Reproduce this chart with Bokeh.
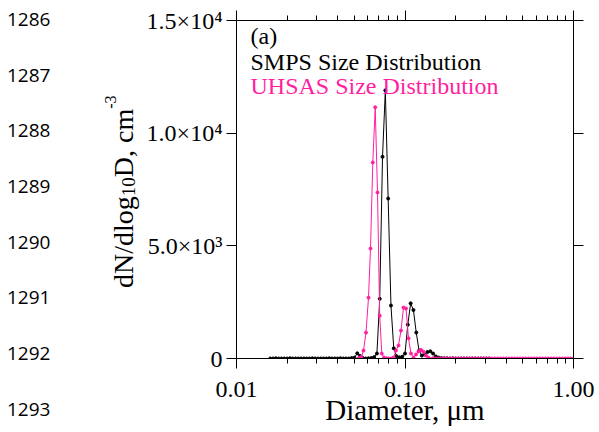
from bokeh.plotting import figure
from bokeh.layouts import row
from bokeh.models import (Range1d, FixedTicker, LinearAxis, LogAxis, Label, Div,
                          PrintfTickFormatter, ColumnDataSource)
from bokeh.embed import file_html
from bokeh.resources import INLINE

# ---------------- data ----------------
smps_diameter = [
    0.01585, 0.01647, 0.01711, 0.01778, 0.01848, 0.01920, 0.01995, 0.02073, 0.02154, 0.02239,
    0.02326, 0.02417, 0.02512, 0.02610, 0.02712, 0.02818, 0.02929, 0.03043, 0.03162, 0.03286,
    0.03415, 0.03548, 0.03687, 0.03831, 0.03981, 0.04137, 0.04299, 0.04467, 0.04642, 0.04823,
    0.05012, 0.05208, 0.05412, 0.05623, 0.05843, 0.06072, 0.06310, 0.06556, 0.06813, 0.07079,
    0.07356, 0.07644, 0.07943, 0.08254, 0.08577, 0.08913, 0.09261, 0.09624, 0.1000, 0.1039,
    0.1080, 0.1122, 0.1166, 0.1212, 0.1259, 0.1308, 0.1359, 0.1413, 0.1468, 0.1525,
    0.1585, 0.1647, 0.1711, 0.1778, 0.1848, 0.1920, 0.1995, 0.2073, 0.2154, 0.2239,
    0.2326, 0.2417, 0.2512, 0.2610, 0.2712, 0.2818, 0.2929, 0.3043, 0.3162,
]
smps_dndlogd = [
    0, 0, 10, 0, 0, 0, 0, 10, 0, 0,
    0, 0, 0, 0, 0, 10, 0, 0, 0, 0,
    0, 10, 0, 0, 0, 10, 0, 0, 0, 20,
    40, 230, 110, 20, 0, 10, 20, 60, 220, 2650,
    8950, 11900, 7100, 2350, 450, 100, 50, 80, 220, 1500,
    2450, 2150, 1150, 350, 130, 180, 290, 320, 220, 90,
    40, 20, 10, 10, 0, 10, 0, 0, 0, 0,
    0, 0, 0, 0, 0, 0, 0, 0, 0,
]

uhsas_diameter = [
    0.05333, 0.05519, 0.05672, 0.05869, 0.06073, 0.06241, 0.06441, 0.06656, 0.06868, 0.07078,
    0.07284, 0.07507, 0.07768, 0.07983, 0.08260, 0.08547, 0.08844, 0.09151, 0.09468, 0.09797,
    0.1014, 0.1049, 0.1085, 0.1123, 0.1162, 0.1203, 0.1244, 0.1287, 0.1332, 0.1379,
    0.1468, 0.1525, 0.1585, 0.1647, 0.1711, 0.1778, 0.1848, 0.1920, 0.1995, 0.2073,
    0.2154, 0.2239, 0.2326, 0.2417, 0.2512, 0.2610, 0.2712, 0.2818, 0.2929, 0.3043,
    0.3162, 0.3286, 0.3415, 0.3548, 0.3687, 0.3831, 0.3981, 0.4137, 0.4299, 0.4467,
    0.4642, 0.4823, 0.5012, 0.5208, 0.5412, 0.5623, 0.5843, 0.6072, 0.6310, 0.6556,
    0.6813, 0.7079, 0.7356, 0.7644, 0.7943, 0.8254, 0.8577, 0.8913, 0.9261, 0.9624,
    1.0000,
]
uhsas_dndlogd = [
    20, 80, 355, 1150, 2700, 4880, 8700, 11150, 7370, 1900,
    220, 40, 10, 0, 0, 40, 355, 580, 1240, 2260,
    2220, 900, 220, 40, 180, 310, 380, 300, 130, 40,
    10, 0, 0, 0, 0, 0, 0, 0, 0, 0,
    0, 0, 0, 0, 0, 0, 0, 0, 0, 0,
    0, 0, 0, 0, 0, 0, 0, 0, 0, 0,
    0, 0, 0, 0, 0, 0, 0, 0, 0, 0,
    0, 0, 0, 0, 0, 0, 0, 0, 0, 0,
    0,
]

x_ticks = [0.01, 0.1, 1.0]
x_minor_ticks = [0.02, 0.03, 0.04, 0.05, 0.06, 0.07, 0.08, 0.09,
                 0.2, 0.3, 0.4, 0.5, 0.6, 0.7, 0.8, 0.9]
y_ticks = [0, 5000, 10000, 15000]
y_tick_labels = ["0", "5.0×10³", "1.0×10⁴", "1.5×10⁴"]

x_title = "Diameter, μm"
y_title_main1, y_title_sub, y_title_main2, y_title_sup = "dN/dlog", "10", "D, cm", "-3"

legend_texts = ["(a)", "SMPS Size Distribution", "UHSAS Size Distribution"]
line_numbers = ["1286", "1287", "1288", "1289", "1290", "1291", "1292", "1293"]

# ---------------- styling ----------------
BLACK = "#000000"
MAGENTA = "#ff1fa0"
SERIF = "Liberation Serif"
LEFT_W = 140          # width of the margin panel (line numbers + y title)
TOTAL_W, TOTAL_H = 599, 432

# ---------------- left margin panel: manuscript line numbers + y title ----------------
line_center = [20, 75.5, 131, 187, 242.5, 298, 354, 410]
spans = []
for t, c in zip(line_numbers, line_center):
    spans.append(
        f'<div style="position:absolute;left:7px;top:{c - 10}px;'
        f"font-family:'Open Sans';font-size:19px;line-height:19px;color:#000;"
        f'white-space:nowrap;">{t}</div>'
    )
y_title_html = (
    f'<div style="position:absolute;left:109.5px;top:288px;transform:rotate(-90deg);'
    f"transform-origin:0 0;white-space:nowrap;font-family:'{SERIF}';font-size:28px;"
    f'line-height:28px;color:#000;">{y_title_main1}'
    f'<span style="font-size:19px;position:relative;top:2px;">{y_title_sub}</span>'
    f'{y_title_main2}'
    f'<span style="font-size:16px;position:relative;top:-17px;">{y_title_sup}</span></div>'
)
side_html = (
    f'<div style="position:relative;width:{LEFT_W}px;height:{TOTAL_H}px;margin:0;'
    f'padding:0;background:#fff;overflow:hidden;">' + "".join(spans) + y_title_html + "</div>"
)
side = Div(text=side_html, width=LEFT_W, height=TOTAL_H, margin=(0, 0, 0, 0))

# ---------------- main plot ----------------
p = figure(width=TOTAL_W - LEFT_W, height=TOTAL_H, x_axis_type="log",
           x_range=Range1d(0.01, 1.0), y_range=Range1d(0, 15000),
           output_backend="svg", toolbar_location=None,
           min_border_left=236 - LEFT_W, min_border_right=26,
           min_border_top=20, min_border_bottom=74)
p.outline_line_color = None
p.xgrid.visible = False
p.ygrid.visible = False
p.background_fill_color = "white"
p.border_fill_color = "white"

xticker = FixedTicker(ticks=x_ticks, minor_ticks=x_minor_ticks)
yticker = FixedTicker(ticks=y_ticks, minor_ticks=[])


def style_axis(ax):
    ax.axis_line_color = BLACK
    ax.axis_line_width = 1
    ax.major_tick_line_color = BLACK
    ax.minor_tick_line_color = BLACK
    ax.major_tick_out = 10
    ax.major_tick_in = 0
    ax.minor_tick_out = 5
    ax.minor_tick_in = 0
    ax.major_label_text_font = SERIF
    ax.major_label_text_font_size = "24px"
    ax.major_label_text_color = BLACK


xa = p.below[0]
style_axis(xa)
xa.ticker = xticker
xa.formatter = PrintfTickFormatter(format="%.2f")
xa.major_label_standoff = 13
xa.axis_label = x_title
xa.axis_label_text_font = SERIF
xa.axis_label_text_font_size = "29px"
xa.axis_label_text_font_style = "normal"
xa.axis_label_text_color = BLACK
xa.axis_label_standoff = -6

ya = p.left[0]
style_axis(ya)
ya.ticker = yticker
ya.major_label_overrides = dict(zip(y_ticks, y_tick_labels))
ya.major_label_standoff = 4

top = LogAxis(ticker=xticker)
style_axis(top)
top.major_label_overrides = {t: "" for t in x_ticks}
top.major_label_standoff = 0
p.add_layout(top, "above")

right = LinearAxis(ticker=yticker)
style_axis(right)
right.major_label_overrides = {t: "" for t in y_ticks}
right.major_label_standoff = 0
p.add_layout(right, "right")

smps = ColumnDataSource(dict(d=smps_diameter, n=smps_dndlogd))
uhsas = ColumnDataSource(dict(d=uhsas_diameter, n=uhsas_dndlogd))

p.line("d", "n", source=smps, line_color=BLACK, line_width=1)
p.scatter("d", "n", source=smps, size=3, marker="circle", color=BLACK)
p.line("d", "n", source=uhsas, line_color=MAGENTA, line_width=1)
p.scatter("d", "n", source=uhsas, size=3, marker="circle", color=MAGENTA)

# in-plot legend texts (screen px relative to the plot frame)
legend_y = [323, 297, 272.5]
legend_colors = [BLACK, BLACK, MAGENTA]
for t, yy, c in zip(legend_texts, legend_y, legend_colors):
    p.add_layout(Label(x=14, y=yy, x_units="screen", y_units="screen", text=t,
                       text_font=SERIF, text_font_size="24px", text_color=c,
                       text_baseline="middle", text_align="left"))

layout = row(side, p, spacing=0)
open("out.html", "w").write(file_html(layout, INLINE))
